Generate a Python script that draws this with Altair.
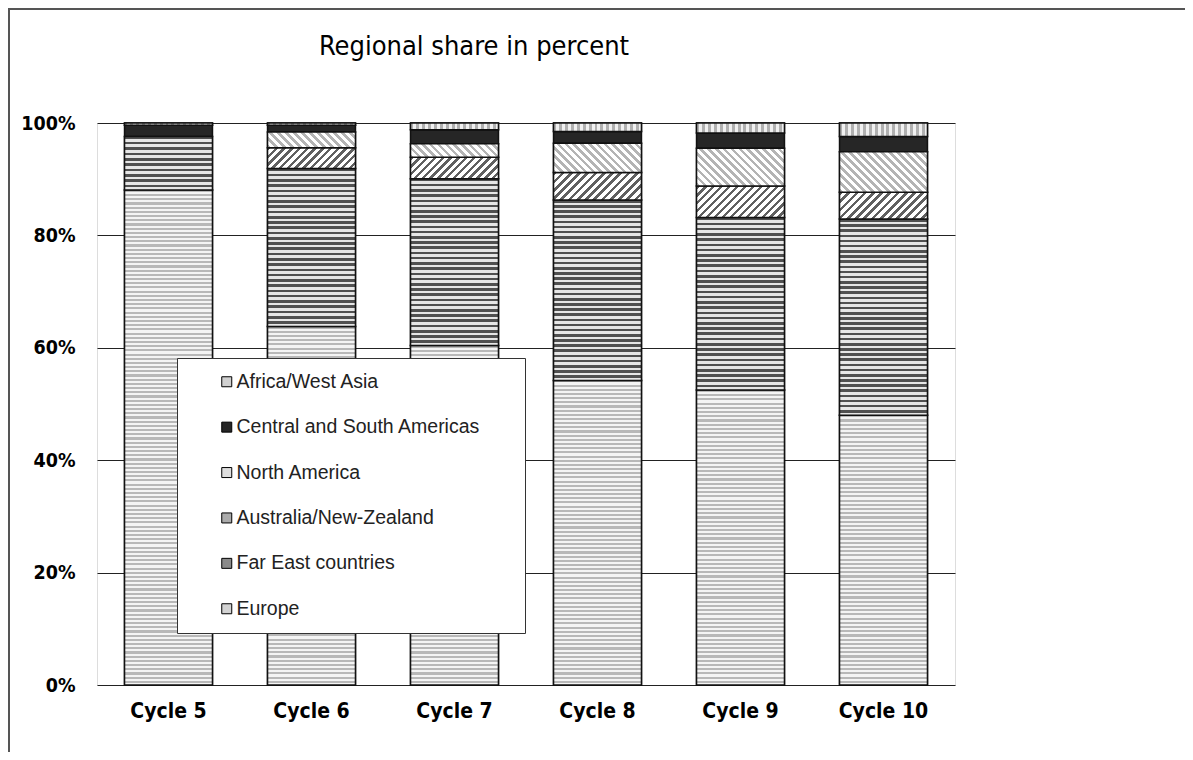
import altair as alt
import pandas as pd

cycles = ["Cycle 5", "Cycle 6", "Cycle 7", "Cycle 8", "Cycle 9", "Cycle 10"]
regions = ["Europe", "Far East countries", "Australia/New-Zealand",
           "North America", "Central and South Americas", "Africa/West Asia"]
europe = [88.1, 63.8, 60.4, 54.2, 52.5, 48.0]
far_east = [9.5, 28.1, 29.7, 32.1, 30.7, 34.9]
australia = [0.0, 3.7, 3.8, 4.9, 5.6, 4.8]
north_america = [0.0, 2.8, 2.4, 5.2, 6.7, 7.2]
central_south = [2.0, 1.2, 2.5, 2.1, 2.7, 2.7]
africa = [0.4, 0.4, 1.2, 1.5, 1.8, 2.4]
title_text = "Regional share in percent"

series = [europe, far_east, australia, north_america, central_south, africa]
rows = []
for ri, (reg, vals) in enumerate(zip(regions, series)):
    for c, v in zip(cycles, vals):
        rows.append({"cycle": c, "region": reg, "share": v, "order": ri})
df = pd.DataFrame(rows)

legend_order = list(reversed(regions))
fills = {
    "Africa/West Asia": "#d0d0d0",
    "Central and South Americas": "#262626",
    "North America": "#dedede",
    "Australia/New-Zealand": "#ababab",
    "Far East countries": "#8a8a8a",
    "Europe": "#d3d3d3",
}

# pattern styles: (kind, pixel period, fraction of first colour, colour1, colour2)
patterns = {
    "Europe": ("h", 4.2, 0.5, "#b8b8b8", "#f4f4f4"),
    "Far East countries": ("h", 5.2, 0.5, "#505050", "#e6e6e6"),
    "Australia/New-Zealand": ("d1", 8.0, 0.45, "#606060", "#ffffff"),
    "North America": ("d2", 8.0, 0.45, "#b4b4b4", "#ffffff"),
    "Africa/West Asia": ("v", 6.0, 0.5, "#b0b0b0", "#f0f0f0"),
}

narrow = "DejaVu Sans Condensed, DejaVu Sans, sans-serif"
W, H = 858, 562
BAR_W = (W / len(cycles)) * (1 - 0.385)


def stripe_gradient(kind, period, frac, c1, c2, w, h):
    if kind == "h":
        span = h
        x1, y1, x2, y2 = 0, 0, 0, 1
    elif kind == "v":
        span = w
        x1, y1, x2, y2 = 0, 0, 1, 0
    else:
        span = w + h
        k = w * (w + h) / (w * w + h * h)
        if kind == "d1":
            x1, y1, x2, y2 = 0, 0, k, k * h / w
        else:
            x1, y1, x2, y2 = 0, 1, k, 1 - k * h / w
    n = max(1, int(round(span / period)))
    stops = []
    for i in range(n):
        a, b, c = i / n, (i + frac) / n, (i + 1) / n
        stops += [{"offset": a, "color": c1}, {"offset": b, "color": c1},
                  {"offset": b, "color": c2}, {"offset": c, "color": c2}]
    return {"gradient": "linear", "x1": x1, "y1": y1, "x2": x2, "y2": y2,
            "stops": stops}


x_enc = alt.X("cycle:N", sort=cycles, title=None,
              scale=alt.Scale(paddingInner=0.385, paddingOuter=0.1925),
              axis=alt.Axis(labelAngle=0, domain=False, ticks=False, labelPadding=15,
                            labelFont=narrow, labelFontSize=21, labelFontWeight="bold",
                            labelColor="black"))
y_scale = alt.Scale(domain=[0, 1], nice=False)
y_axis = alt.Axis(values=[0, 0.2, 0.4, 0.6, 0.8, 1.0], format=".0%",
                  domain=False, ticks=False, grid=True, gridColor="#222222",
                  gridWidth=1, labelPadding=22, labelFont=narrow,
                  labelFontSize=19.5, labelFontWeight="bold", labelColor="black")

base = alt.Chart(df).transform_filter("datum.share > 0")

bars = base.mark_bar(stroke="#111111", strokeWidth=1.5).encode(
    x=x_enc,
    y=alt.Y("share:Q", stack="normalize", title=None, scale=y_scale, axis=y_axis),
    color=alt.Color("region:N", sort=legend_order,
                    scale=alt.Scale(domain=legend_order,
                                    range=[fills[r] for r in legend_order]),
                    legend=alt.Legend(title=None, orient="none", legendX=80, legendY=235,
                                      fillColor="white", strokeColor="#333333",
                                      padding=14, symbolType="square", symbolSize=100,
                                      symbolStrokeColor="black", symbolStrokeWidth=1,
                                      symbolOffset=26, labelOffset=0, rowPadding=24.4,
                                      labelFont="Liberation Sans", labelFontSize=19.5,
                                      labelColor="#222222", labelLimit=600,
                                      labelExpr="datum.label + '\u2800\u2800'")),
    order=alt.Order("order:Q", sort="ascending"),
)

stacked = base.transform_stack(
    stack="share", as_=["y0", "y1"], groupby=["cycle"],
    sort=[alt.SortField("order", order="ascending")], offset="normalize"
)

pattern_layers = []
for reg, vals in zip(regions, series):
    if reg not in patterns:
        continue
    kind, period, frac, c1, c2 = patterns[reg]
    for c, v in zip(cycles, vals):
        if v <= 0:
            continue
        seg_h = v / 100.0 * H
        grad = stripe_gradient(kind, period, frac, c1, c2, BAR_W, seg_h)
        layer = stacked.transform_filter(
            f"datum.cycle === '{c}' && datum.region === '{reg}'"
        ).mark_bar(fill=grad, stroke="#111111", strokeWidth=1.5).encode(
            x=x_enc,
            y=alt.Y("y0:Q", title=None, scale=y_scale, axis=y_axis),
            y2="y1:Q",
        )
        pattern_layers.append(layer)

frame = alt.Chart(pd.DataFrame({"k": [0]})).mark_rect(
    fill="transparent", stroke="#555555", strokeWidth=2
).encode(
    x=alt.value(-88), x2=alt.value(1300), y=alt.value(-114), y2=alt.value(900)
)

title = alt.Chart(pd.DataFrame({"t": [title_text]})).mark_text(
    font=narrow, fontSize=27, color="black", align="center", baseline="middle"
).encode(
    text="t:N", x=alt.value(377), y=alt.value(-76)
)

chart = alt.layer(bars, *pattern_layers, frame, title).properties(
    width=W, height=H,
    autosize=alt.AutoSizeParams(type="none"),
    padding={"left": 89, "top": 115, "right": 230, "bottom": 67},
).configure_view(stroke="#444444", strokeWidth=1).configure(background="white")

chart.save("out.html", embed_options={"renderer": "svg", "actions": False})
